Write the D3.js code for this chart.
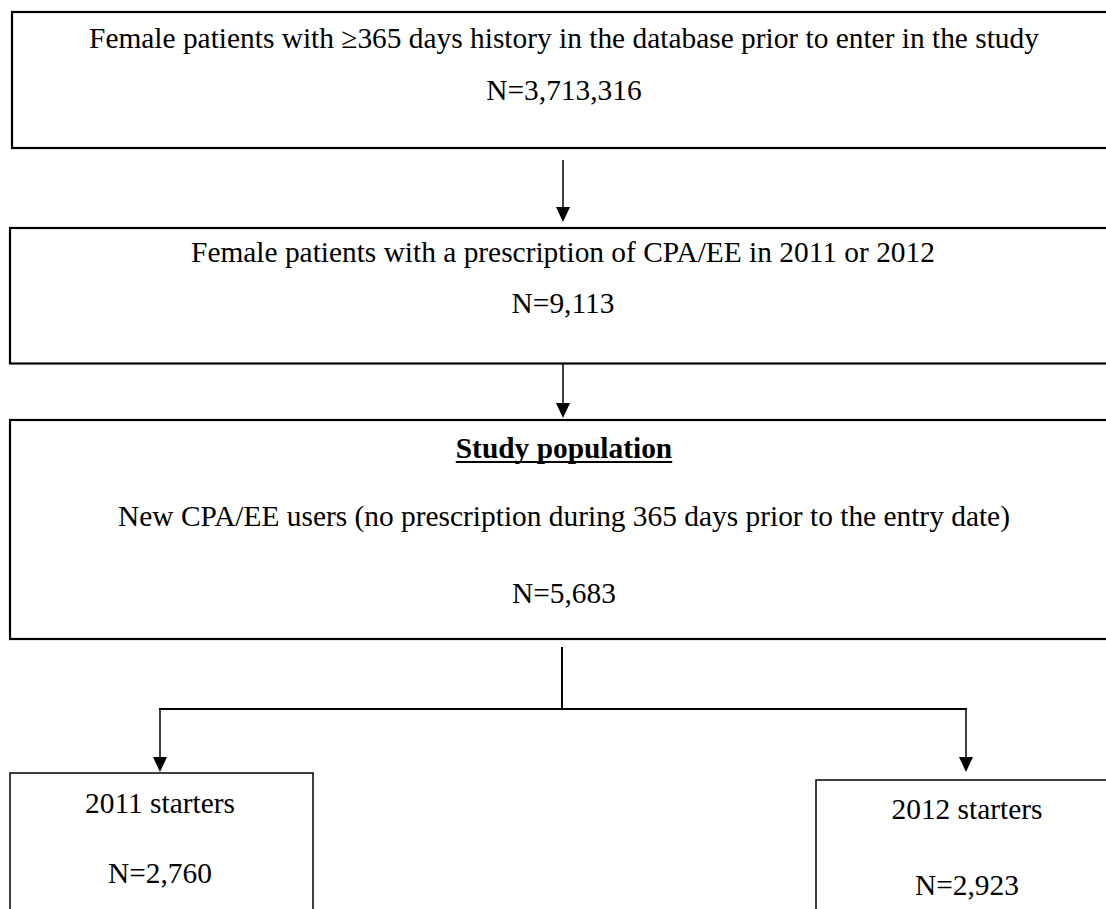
<!DOCTYPE html>
<html>
<head>
<meta charset="utf-8">
<script src="https://cdn.jsdelivr.net/npm/d3@7"></script>
<style>
  html, body { margin: 0; padding: 0; background: #fff; }
  svg { display: block; }
</style>
</head>
<body>
<svg id="chart" width="1106" height="909"></svg>
<script>
// ---- data ----
const stepTitles = [
  "Female patients with \u2265365 days history in the database prior to enter in the study",
  "Female patients with a prescription of CPA/EE in 2011 or 2012",
  "Study population",
  "2011 starters",
  "2012 starters"
];
const stepNotes = [
  null,
  null,
  "New CPA/EE users (no prescription during 365 days prior to the entry date)",
  null,
  null
];
const stepCounts = [3713316, 9113, 5683, 2760, 2923];

// ---- layout ----
const svg = d3.select("#chart");
const fmt = d3.format(",");
const font = "'Liberation Serif', 'Times New Roman', serif";
const fs = 29.4;

const boxes = [
  { x: 12, y: 12, w: 1120, h: 136, sw: 2.2, lines: [{t: stepTitles[0], y: 48}, {t: "N=" + fmt(stepCounts[0]), y: 100}] },
  { x: 10, y: 228, w: 1120, h: 135.5, sw: 2.2, lines: [{t: stepTitles[1], y: 262}, {t: "N=" + fmt(stepCounts[1]), y: 313}] },
  { x: 10, y: 420, w: 1120, h: 219, sw: 2.2, lines: [{t: stepTitles[2], y: 458, bold: true, underline: true}, {t: stepNotes[2], y: 526}, {t: "N=" + fmt(stepCounts[2]), y: 603}] },
  { x: 10, y: 773, w: 303, h: 200, sw: 1.5, lines: [{t: stepTitles[3], y: 813}, {t: "N=" + fmt(stepCounts[3]), y: 883}] },
  { x: 816, y: 780, w: 320, h: 200, sw: 1.5, lines: [{t: stepTitles[4], y: 819}, {t: "N=" + fmt(stepCounts[4]), y: 895}] }
];
const textCx = [564, 563, 564, 160, 967];

boxes.forEach((b, i) => {
  svg.append("rect")
    .attr("x", b.x).attr("y", b.y).attr("width", b.w).attr("height", b.h)
    .attr("fill", "none").attr("stroke", "#000").attr("stroke-width", b.sw);
  b.lines.forEach(l => {
    const t = svg.append("text")
      .attr("x", textCx[i]).attr("y", l.y)
      .attr("text-anchor", "middle")
      .attr("font-family", font)
      .attr("font-size", fs)
      .attr("font-weight", l.bold ? "bold" : "normal")
      .attr("fill", "#000")
      .text(l.t);
    if (l.underline) {
      const bb = t.node().getBBox();
      svg.append("line")
        .attr("x1", bb.x).attr("x2", bb.x + bb.width)
        .attr("y1", l.y + 4).attr("y2", l.y + 4)
        .attr("stroke", "#000").attr("stroke-width", 2);
    }
  });
});

// arrow helper
function arrow(x, y1, y2, sw) {
  svg.append("line")
    .attr("x1", x).attr("x2", x).attr("y1", y1).attr("y2", y2 - 14)
    .attr("stroke", "#000").attr("stroke-width", sw);
  svg.append("path")
    .attr("d", d3.line()([[x - 7, y2 - 15], [x + 7, y2 - 15], [x, y2]]) + "Z")
    .attr("fill", "#000");
}

arrow(563, 160, 222, 1.5);
arrow(563, 363, 418, 1.5);

// split connector
svg.append("line").attr("x1", 562).attr("x2", 562).attr("y1", 647).attr("y2", 709)
  .attr("stroke", "#000").attr("stroke-width", 2);
svg.append("line").attr("x1", 159).attr("x2", 967).attr("y1", 709).attr("y2", 709)
  .attr("stroke", "#000").attr("stroke-width", 2);
arrow(160, 709, 772, 1.5);
arrow(966, 709, 772, 1.5);
</script>
</body>
</html>
